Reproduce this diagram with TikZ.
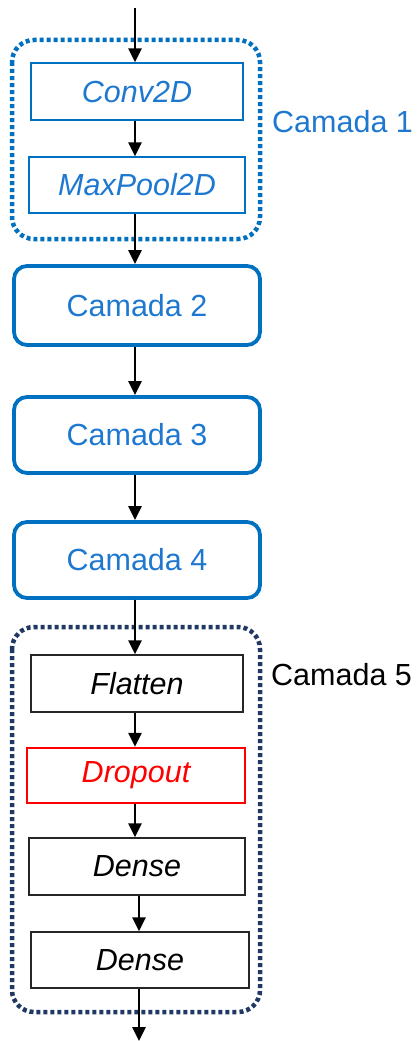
\documentclass[tikz,border=0pt]{standalone}
\usepackage{fontspec}
\setmainfont{Liberation Sans}
\usetikzlibrary{arrows.meta}
\definecolor{boxblue}{HTML}{0070C0}
\definecolor{txtblue}{HTML}{1E78D0}
\definecolor{navy}{HTML}{1F3864}
\definecolor{dropred}{HTML}{FF0000}
\tikzset{
  lbl/.style={font=\fontsize{30.5}{36}\selectfont, inner sep=0pt},
  layer/.style={draw, line width=1.4pt, rectangle, inner sep=0pt, font=\fontsize{30.5}{36}\selectfont\itshape},
  bluelayer/.style={layer, draw=boxblue, text=txtblue},
  blacklayer/.style={layer, draw=black!85, text=black},
  redlayer/.style={layer, draw=dropred, text=dropred, line width=2.4pt},
  stage/.style={draw=boxblue, line width=3.8pt, rounded corners=13pt, rectangle, inner sep=0pt, text=txtblue, font=\fontsize{30.5}{36}\selectfont},
  group/.style={line width=4.5pt, rounded corners=22pt, dash pattern=on 4pt off 3pt},
  flow/.style={line width=2.6pt, -{Triangle[width=13pt,length=14pt]}}
}
\begin{document}
\begin{tikzpicture}[x=1pt,y=-1pt]
  \useasboundingbox (0,0) rectangle (418,1041);

  % dotted group outlines
  \draw[group, draw=boxblue] (12,40) rectangle (260,239);
  \draw[group, draw=navy] (12,627) rectangle (260,1012);

  % first block
  \node[bluelayer, minimum width=212pt, minimum height=57pt] (conv) at (137,91.5) {Conv2D};
  \node[bluelayer, minimum width=216pt, minimum height=56pt] (pool) at (137,185) {MaxPool2D};
  \node[lbl, text=txtblue, anchor=west] (c1) at (272,122) {Camada 1};

  % intermediate stages
  \node[stage, minimum width=246pt, minimum height=79pt] (c2) at (137,305.5) {Camada 2};
  \node[stage, minimum width=246pt, minimum height=76pt] (c3) at (137,435) {Camada 3};
  \node[stage, minimum width=246pt, minimum height=76pt] (c4) at (137,560) {Camada 4};

  % last block
  \node[blacklayer, minimum width=212pt, minimum height=57pt] (flat) at (137,683.5) {Flatten};
  \node[redlayer, minimum width=218pt, minimum height=55pt] (drop) at (136,775.5) {Dropout};
  \node[blacklayer, minimum width=216pt, minimum height=57pt] (d1) at (137,866.5) {Dense};
  \node[blacklayer, minimum width=218pt, minimum height=56pt] (d2) at (140,960) {Dense};
  \node[lbl, text=black, anchor=west] (c5) at (271,675) {Camada 5};

  % input and output ends
  \coordinate (in) at (135,8);
  \coordinate (out) at (139,1041);

  % connectors
  \draw[flow] (in) -- (in |- conv.north);
  \draw[flow] (conv.south -| 135,0) -- (pool.north -| 135,0);
  \draw[flow] (pool.south -| 135,0) -- (c2.north -| 135,0);
  \draw[flow] (c2.south -| 135,0) -- (c3.north -| 135,0);
  \draw[flow] (c3.south -| 135,0) -- (c4.north -| 135,0);
  \draw[flow] (c4.south -| 135,0) -- (flat.north -| 135,0);
  \draw[flow] (flat.south -| 135,0) -- (drop.north -| 135,0);
  \draw[flow] (drop.south -| 135,0) -- (d1.north -| 135,0);
  \draw[flow] (d1.south -| 139,0) -- (d2.north -| 139,0);
  \draw[flow] (d2.south -| 139,0) -- (out);
\end{tikzpicture}
\end{document}
